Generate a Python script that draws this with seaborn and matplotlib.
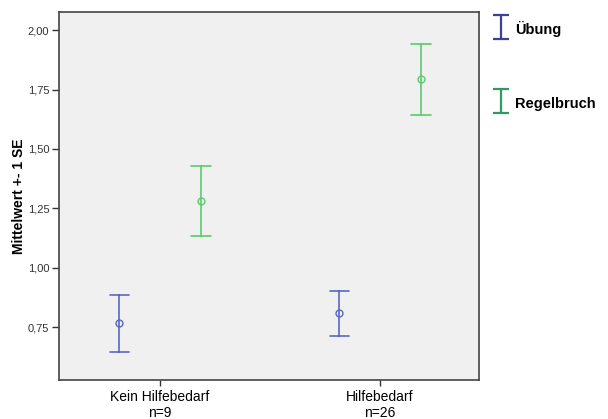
import numpy as np
import pandas as pd
import seaborn as sns
import matplotlib.pyplot as plt
from matplotlib.ticker import FuncFormatter
from matplotlib.legend_handler import HandlerErrorbar

# summary values (mean +- 1 SE)
groups = ["Kein Hilfebedarf\nn=9", "Hilfebedarf\nn=26"]
series = ["Übung", "Regelbruch"]
means = {"Übung": [0.767, 0.809], "Regelbruch": [1.280, 1.796]}
lower = {"Übung": [0.645, 0.712], "Regelbruch": [1.132, 1.645]}
upper = {"Übung": [0.885, 0.902], "Regelbruch": [1.427, 1.940]}

bar_colors = {"Übung": "#5868c0", "Regelbruch": "#5ccb6c"}
legend_colors = {"Übung": "#3a3fa0", "Regelbruch": "#2f9a62"}

# long table: median of (lower, mean, upper) = mean, 100% interval = [lower, upper]
rows = []
for s in series:
    for i, g in enumerate(groups):
        for v in (lower[s][i], means[s][i], upper[s][i]):
            rows.append({"group": g, "series": s, "value": v})
df = pd.DataFrame(rows)

sns.set_style("ticks")
plt.rcParams['font.family'] = ['Liberation Sans', 'DejaVu Sans']

fig = plt.figure(figsize=(6.08, 4.19), dpi=100)
ax = fig.add_axes([0.097, 0.093, 0.691, 0.878])
ax.set_facecolor("#f0f0f0")

sns.pointplot(data=df, x="group", y="value", hue="series", order=groups, hue_order=series,
              estimator="median", errorbar=("pi", 100), dodge=0.37, linestyle="none",
              palette=bar_colors, markers="o", markersize=5, markerfacecolor="none",
              markeredgewidth=1, capsize=0.09, err_kws={"linewidth": 1.2},
              legend=False, ax=ax)

ax.set_ylim(0.527, 2.076)
ax.set_xlim(-0.46, 1.45)
ax.set_yticks([0.75, 1.00, 1.25, 1.50, 1.75, 2.00])
ax.yaxis.set_major_formatter(FuncFormatter(lambda v, p: f"{v:.2f}".replace(".", ",")))
ax.tick_params(axis="y", labelsize=8, length=5, width=1, color="#333333", pad=2,
               labelcolor="#333333")
ax.tick_params(axis="x", labelsize=10, length=4, width=1, color="#333333", pad=3,
               labelcolor="black")
ax.set_xlabel("")
ax.set_ylabel("Mittelwert +- 1 SE", fontsize=10, fontweight="bold", labelpad=1, color="black")
for sp in ax.spines.values():
    sp.set_visible(True)
    sp.set_color("#444444")
    sp.set_linewidth(1.2)

# legend with error bar symbols
handles = []
for s in series:
    h = ax.errorbar([np.nan], [np.nan], yerr=[1], fmt="none", ecolor=legend_colors[s],
                    elinewidth=1.6, capsize=6, capthick=1.6, label=s)
    handles.append(h)
leg = fig.legend(handles=handles, labels=series, loc="upper left", bbox_to_anchor=(0.785, 0.983),
                 frameon=False, prop={"weight": "bold", "size": 10.5}, labelspacing=3.9,
                 handlelength=1.4, handleheight=1.45, handletextpad=0.3,
                 handler_map={type(handles[0]): HandlerErrorbar(yerr_size=0.82)})
for t in leg.get_texts():
    t.set_color("black")

fig.savefig("out.png", dpi=100)
